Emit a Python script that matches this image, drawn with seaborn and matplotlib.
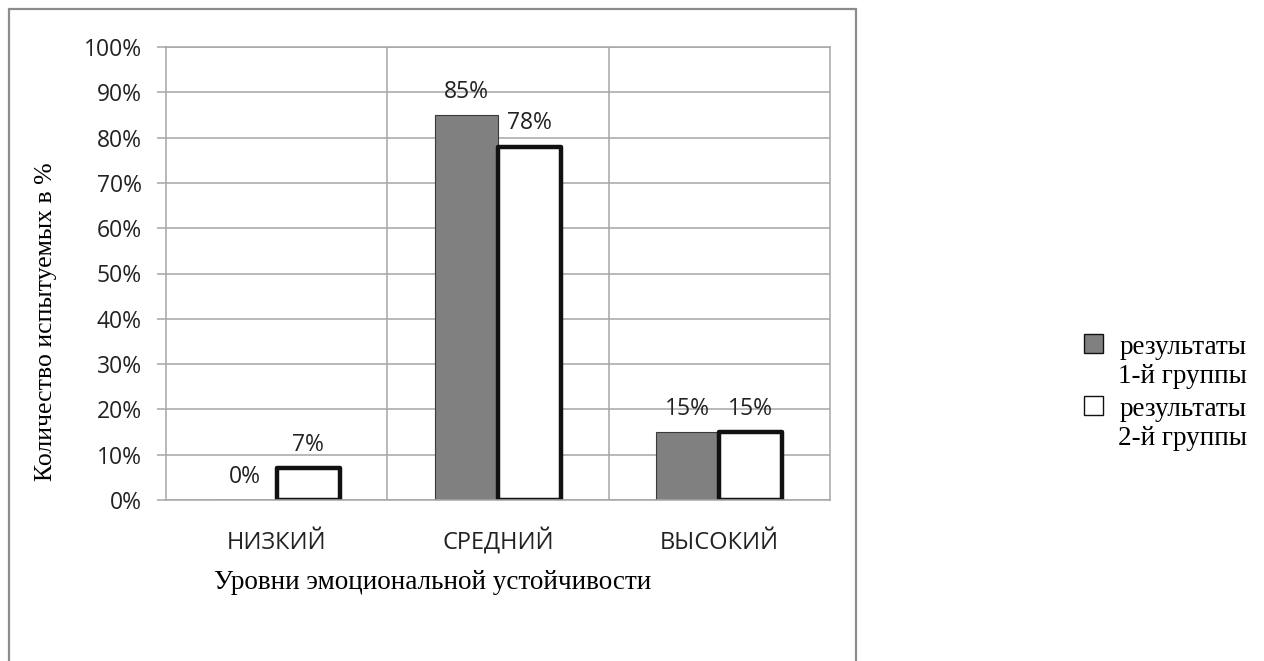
import matplotlib
matplotlib.use("Agg")
import matplotlib.pyplot as plt
from matplotlib.patches import Rectangle
import pandas as pd
import seaborn as sns

# Data
levels = ["НИЗКИЙ", "СРЕДНИЙ", "ВЫСОКИЙ"]
group1 = [0, 85, 15]
group2 = [7, 78, 15]
group_names = ["результаты\n1-й группы", "результаты\n2-й группы"]
ytick_values = [0, 10, 20, 30, 40, 50, 60, 70, 80, 90, 100]
ytick_labels = [f"{v}%" for v in ytick_values]
x_title = "Уровни эмоциональной устойчивости"
y_title = "Количество испытуемых в %"

df = pd.DataFrame({
    "level": levels * 2,
    "value": group1 + group2,
    "group": [group_names[0]] * len(levels) + [group_names[1]] * len(levels),
})

sns.set_theme(style="white")
SANS = "Open Sans"
SERIF = "Liberation Serif"
GRID = "#a6a6a6"
FILL1 = "#808080"
TXT = "#222222"

W, H = 1264, 661
fig = plt.figure(figsize=(W / 100, H / 100), dpi=100)
fig.patch.set_facecolor("white")
ax = fig.add_axes([166 / W, 161 / H, 664 / W, 453 / H])

sns.barplot(data=df, x="level", y="value", hue="group", order=levels,
            hue_order=group_names, palette=[FILL1, "#ffffff"],
            width=0.57, saturation=1, errorbar=None, legend=False, ax=ax)

# bar outlines: thin for the grey series, heavy black for the white one
for bar in ax.containers[0]:
    bar.set_edgecolor("#3a3a3a")
    bar.set_linewidth(0.8)
for bar in ax.containers[1]:
    bar.set_edgecolor("#111111")
    bar.set_linewidth(3.2)
    bar.set_joinstyle("round")

# value labels above each bar
for cont in ax.containers:
    for bar in cont:
        h = bar.get_height()
        ax.annotate(f"{h:.0f}%", (bar.get_x() + bar.get_width() / 2, h),
                    xytext=(0, 12.5), textcoords="offset points",
                    ha="center", va="baseline", fontsize=16.5,
                    family=SANS, color=TXT)

ax.set_ylim(0, 100)
ax.set_xlim(-0.5, len(levels) - 0.5)
ax.set_yticks(ytick_values)
ax.set_yticklabels(ytick_labels, family=SANS, fontsize=16.5, color=TXT)
ax.set_xticks(range(len(levels)))
ax.set_xticklabels(levels, family=SANS, fontsize=17, color=TXT)
for lbl in ax.get_xticklabels():
    lbl.set_va("baseline")
ax.set_xticks([i + 0.5 for i in range(len(levels) - 1)], minor=True)

ax.yaxis.grid(True, color=GRID, linewidth=1.1)
ax.xaxis.grid(True, which="minor", color=GRID, linewidth=1.1)
ax.xaxis.grid(False, which="major")
ax.set_axisbelow(True)
for s in ax.spines.values():
    s.set_color(GRID)
    s.set_linewidth(1.1)

ax.tick_params(axis="y", left=True, length=6.5, width=1.1, color=GRID,
               direction="out", pad=11)
ax.tick_params(axis="x", which="both", bottom=False, pad=29)

ax.set_xlabel(x_title, family=SERIF, fontsize=19.5, color="black")
ax.set_ylabel(y_title, family=SERIF, fontsize=18.5, color="black")
ax.xaxis.set_label_coords((433 - 166) / 664, (500 - 570) / 453)
ax.yaxis.set_label_coords((57 - 166) / 664, (500 - 322) / 453)

# outer chart border
fig.patches.append(Rectangle((9 / W, -0.05), (856 - 9) / W, 1 - 9 / H + 0.05,
                             transform=fig.transFigure, fill=False,
                             edgecolor="#8c8c8c", linewidth=1.6, zorder=0))

# legend
legend_fills = [FILL1, "#ffffff"]
legend_tops = [334, 396]
for fill, top, name in zip(legend_fills, legend_tops, group_names):
    fig.patches.append(Rectangle((1084 / W, 1 - (top + 19) / H), 19 / W, 19 / H,
                                 transform=fig.transFigure, facecolor=fill,
                                 edgecolor="#111111", linewidth=1.0))
    fig.text(1247 / W, 1 - (top + 1) / H, name, ha="right", va="top",
             multialignment="right", family=SERIF, fontsize=19.5,
             linespacing=1.2, color="black")

fig.savefig("out.png", dpi=100, facecolor="white")
